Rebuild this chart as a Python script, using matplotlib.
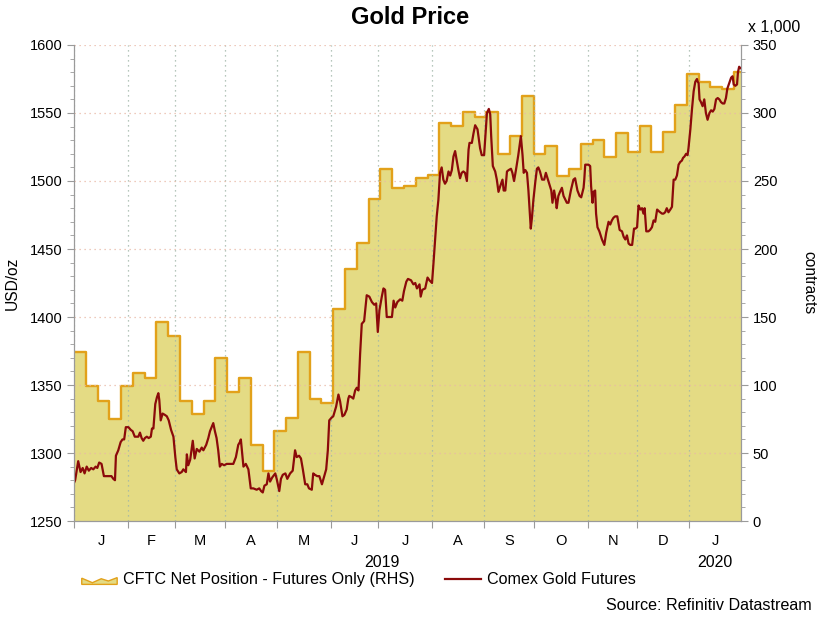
import numpy as np
import pandas as pd
import matplotlib
matplotlib.use('Agg')
import matplotlib.pyplot as plt
from matplotlib.ticker import MultipleLocator, FixedLocator, NullFormatter, FixedFormatter
from matplotlib.patches import Patch, Polygon
from matplotlib.lines import Line2D
from matplotlib.legend_handler import HandlerPatch

plt.rcParams['font.family'] = ['Liberation Sans', 'DejaVu Sans']

# month boundaries of the x axis (axis counts weekdays from 1 Jan 2019)
month_starts = ['2019-01-01', '2019-02-01', '2019-03-01', '2019-04-01', '2019-05-01',
                '2019-06-01', '2019-07-01', '2019-08-01', '2019-09-01', '2019-10-01',
                '2019-11-01', '2019-12-01', '2020-01-01']
axis_end = '2020-01-31'
month_letters = ['J', 'F', 'M', 'A', 'M', 'J', 'J', 'A', 'S', 'O', 'N', 'D', 'J']
years = ['2019', '2020']

# CFTC net position, futures only (x 1,000 contracts), weekly as of Tuesday
cftc_dates = pd.date_range('2019-01-01', '2020-01-28', freq='W-TUE')
cftc_net = [124, 99, 88, 75, 99, 109, 105, 146, 136, 88, 79, 88.5, 120, 95, 105,
            56, 37, 66, 75.5, 124.5, 89.5, 86.5, 156, 185, 204.5, 236.5, 259, 245,
            246, 252, 254.5, 293, 290.5, 300.5, 297, 301, 270, 283, 312.5, 269.5,
            275.5, 253.5, 259, 277, 280.5, 267.5, 285.5, 271.5, 290.5, 271.5, 286,
            306, 328.5, 322.5, 319, 318, 330.5]

# Comex gold futures (USD/oz); position = weekdays since 1 Jan 2019
gold_bday = [0.0, 0.5, 1.8, 2.8, 3.7, 4.5, 5.4, 6.3, 7.3, 8.2, 9.2, 9.9, 10.7, 11.7,
             12.7, 13.8, 14.9, 15.9, 16.7, 17.4, 17.8, 18.8, 19.8, 20.6, 21.3, 22.0,
             23.1, 24.1, 24.9, 25.8, 26.6, 27.3, 28.0, 28.7, 29.4, 30.1, 30.9, 31.7,
             32.6, 33.1, 33.7, 34.5, 35.2, 35.8, 36.2, 36.8, 37.6, 38.6, 39.4, 40.2,
             41.2, 42.2, 43.0, 43.6, 44.7, 45.7, 46.4, 47.5, 47.9, 48.5, 49.3, 50.4,
             51.2, 52.1, 53.2, 54.2, 54.9, 56.1, 57.0, 57.7, 58.4, 59.1, 59.8, 60.5,
             61.2, 61.9, 62.7, 63.7, 64.8, 66.2, 67.6, 68.7, 69.7, 70.4, 70.8, 71.9,
             72.9, 74.0, 75.0, 76.1, 77.5, 78.6, 79.4, 80.1, 80.8, 81.8, 82.5, 83.2,
             84.1, 85.4, 86.0, 87.1, 87.8, 88.6, 89.7, 90.5, 91.7, 92.8, 93.8, 94.5,
             95.5, 96.3, 97.1, 98.1, 99.0, 99.7, 100.9, 101.5, 102.2, 103.2, 104.1,
             105.2, 106.2, 107.0, 107.7, 108.3, 109.3, 110.0, 111.2, 112.2, 112.9,
             113.9, 114.7, 115.7, 116.4, 116.8, 117.8, 118.5, 119.3, 120.0, 120.7,
             121.4, 122.1, 123.1, 124.2, 125.3, 126.4, 127.4, 128.2, 128.9, 129.6,
             130.6, 131.3, 132.0, 132.7, 133.7, 134.9, 135.6, 136.3, 137.2, 138.4,
             139.3, 140.0, 141.0, 141.7, 143.0, 144.0, 144.8, 145.5, 146.6, 147.1,
             147.8, 149.0, 150.0, 150.8, 151.9, 152.5, 153.2, 153.9, 154.6, 155.3,
             156.0, 156.7, 157.4, 158.1, 158.9, 159.6, 160.3, 161.0, 161.7, 162.4,
             163.1, 163.8, 164.5, 165.2, 165.9, 166.7, 167.4, 167.8, 168.8, 169.5,
             170.2, 171.2, 172.3, 173.0, 174.0, 174.8, 175.2, 176.0, 176.6, 177.0,
             177.7, 178.7, 179.4, 180.1, 180.8, 181.8, 182.3, 183.0, 183.7, 184.4,
             185.4, 186.0, 186.7, 187.5, 188.5, 189.6, 190.3, 190.8, 191.5, 192.2,
             192.8, 193.3, 193.8, 194.3, 194.9, 195.7, 196.4, 197.0, 197.7, 198.6,
             199.5, 200.2, 200.9, 201.6, 202.5, 203.0, 203.7, 204.4, 204.8, 205.5,
             206.2, 207.0, 207.7, 209.1, 209.8, 210.8, 211.9, 212.6, 213.6, 214.5,
             215.2, 216.2, 216.5, 216.9, 218.3, 219.0, 219.4, 220.0, 220.4, 221.1,
             221.5, 222.1, 222.9, 224.0, 225.0, 225.8, 226.8, 227.5, 228.2, 228.9,
             229.6, 230.5, 231.5, 232.5, 233.2, 233.9, 234.6, 235.3, 236.0, 236.8,
             237.6, 238.2, 238.9, 239.5, 240.3, 241.0, 241.6, 242.1, 242.8, 243.7,
             244.4, 245.2, 245.9, 246.6, 247.4, 248.0, 248.7, 249.5, 250.1, 250.8,
             251.5, 252.2, 253.0, 253.7, 254.4, 255.1, 255.8, 256.5, 257.2, 257.9,
             258.4, 259.0, 259.7, 260.3, 260.7, 261.5, 262.2, 262.9, 263.6, 264.3,
             264.6, 265.0, 265.4, 266.0, 266.7, 267.4, 268.1, 268.8, 269.6, 270.3,
             271.0, 271.7, 272.4, 273.1, 273.8, 274.5, 275.2, 275.9, 276.6, 277.2,
             278.0, 278.8, 279.4, 279.9, 280.6, 281.3, 281.7, 282.2, 282.7]
gold_usd = [1278, 1280, 1294, 1286, 1289, 1285, 1290, 1287, 1289, 1288, 1290, 1289,
            1293, 1292, 1283, 1283, 1283, 1283, 1281, 1280, 1298, 1302, 1308, 1310,
            1310, 1319, 1319, 1317, 1316, 1312, 1312, 1312, 1315, 1311, 1309, 1311,
            1312, 1311, 1312, 1318, 1318, 1336, 1341, 1344, 1339, 1324, 1329, 1328,
            1327, 1324, 1317, 1312, 1297, 1288, 1285, 1286, 1288, 1286, 1299, 1291,
            1295, 1309, 1296, 1303, 1301, 1304, 1302, 1306, 1311, 1316, 1319, 1322,
            1316, 1311, 1302, 1290, 1292, 1291, 1292, 1292, 1292, 1297, 1306, 1308,
            1310, 1290, 1292, 1288, 1274, 1274, 1273, 1274, 1272, 1271, 1276, 1277,
            1285, 1279, 1282, 1285, 1281, 1272, 1281, 1284, 1285, 1281, 1285, 1287,
            1302, 1297, 1298, 1296, 1288, 1277, 1277, 1274, 1273, 1285, 1284, 1283,
            1283, 1277, 1283, 1288, 1302, 1324, 1326, 1327, 1334, 1343, 1338, 1327,
            1328, 1332, 1340, 1342, 1341, 1340, 1346, 1348, 1346, 1373, 1395, 1397,
            1416, 1415, 1411, 1409, 1410, 1389, 1405, 1415, 1421, 1420, 1400, 1400,
            1400, 1412, 1407, 1411, 1413, 1412, 1419, 1426, 1428, 1427, 1424, 1425,
            1421, 1424, 1415, 1420, 1421, 1429, 1427, 1425, 1439, 1457, 1474, 1486,
            1506, 1510, 1501, 1498, 1500, 1507, 1504, 1508, 1518, 1522, 1515, 1508,
            1502, 1506, 1507, 1506, 1500, 1523, 1528, 1528, 1535, 1541, 1538, 1524,
            1519, 1519, 1540, 1550, 1553, 1549, 1533, 1511, 1507, 1501, 1492, 1496,
            1501, 1493, 1493, 1507, 1508, 1509, 1506, 1500, 1508, 1519, 1533, 1519,
            1506, 1508, 1506, 1493, 1479, 1465, 1473, 1486, 1499, 1509, 1510, 1507,
            1501, 1501, 1506, 1502, 1498, 1493, 1484, 1493, 1486, 1480, 1489, 1492,
            1495, 1489, 1484, 1484, 1493, 1501, 1502, 1493, 1489, 1488, 1495, 1501,
            1512, 1512, 1511, 1496, 1484, 1492, 1493, 1476, 1466, 1463, 1457, 1453,
            1462, 1470, 1468, 1471, 1473, 1474, 1474, 1464, 1463, 1459, 1457, 1460,
            1454, 1453, 1453, 1465, 1465, 1466, 1482, 1479, 1480, 1476, 1480, 1463,
            1463, 1464, 1466, 1471, 1470, 1479, 1478, 1477, 1476, 1476, 1477, 1480,
            1477, 1479, 1481, 1501, 1501, 1504, 1512, 1514, 1515, 1517, 1518, 1520,
            1519, 1524, 1538, 1553, 1566, 1573, 1575, 1573, 1572, 1560, 1558, 1555,
            1560, 1550, 1545, 1550, 1552, 1551, 1553, 1560, 1561, 1560, 1558, 1557,
            1557, 1561, 1568, 1572, 1576, 1577, 1571, 1570, 1571, 1580, 1584, 1583]

fill_col = '#E4DB84'
edge_col = '#E2A11A'
line_col = '#8B0A0A'
spine_col = '#9a9a9a'

# weekday positions
bounds = np.busday_count('2019-01-01', month_starts + [axis_end])
cftc_x = np.busday_count('2019-01-01', cftc_dates.values.astype('datetime64[D]'))
x_end = bounds[-1]
cftc_xs = np.append(cftc_x, x_end)
cftc_vs = np.append(cftc_net, cftc_net[-1])

fig = plt.figure(figsize=(8.2, 6.31), dpi=100)
ax = fig.add_axes([0.0902, 0.1743, 0.8135, 0.7544])
ax2 = ax.twinx()

# CFTC area on the right axis
ax2.fill_between(cftc_xs, cftc_vs, 0, step='post', color=fill_col, lw=0)
ax2.step(cftc_xs, cftc_vs, where='post', color=edge_col, lw=1.7)
ax2.set_ylim(0, 350)

# gold line on the left axis, kept on top
ax.set_zorder(ax2.get_zorder() + 1)
ax.patch.set_visible(False)
ax.plot(gold_bday, gold_usd, color=line_col, lw=1.6)
ax.set_ylim(1250, 1600)
ax.set_xlim(0, x_end)

ax.set_yticks(np.arange(1250, 1601, 50))
ax.yaxis.set_minor_locator(MultipleLocator(10))
ax2.set_yticks(np.arange(0, 351, 50))
ax2.yaxis.set_minor_locator(MultipleLocator(10))

ax.xaxis.set_major_locator(FixedLocator(bounds[:-1]))
ax.xaxis.set_major_formatter(NullFormatter())
mids = (bounds[:-1] + bounds[1:]) / 2
ax.xaxis.set_minor_locator(FixedLocator(mids))
ax.xaxis.set_minor_formatter(FixedFormatter(month_letters))

ax.grid(axis='y', which='major', color='#e9b9a6', ls=(0, (1, 3)), lw=0.9)
ax.grid(axis='x', which='major', color='#9fb4a6', ls=(0, (1, 3)), lw=0.9)

for a in (ax, ax2):
    for s in ('left', 'right', 'bottom'):
        a.spines[s].set_color(spine_col)
    a.spines['top'].set_visible(False)
    a.tick_params(axis='y', which='major', length=5, color=spine_col, labelsize=10.5)
    a.tick_params(axis='y', which='minor', length=3, color=spine_col)
ax.tick_params(axis='x', which='major', length=5, color=spine_col)
ax.tick_params(axis='x', which='minor', length=0, pad=9, labelsize=10.5)

# year labels under the month letters
year_x = [(bounds[0] + bounds[12]) / 2, (bounds[12] + bounds[13]) / 2]
for yx, yl in zip(year_x, years):
    ax.text(yx, -0.088, yl, transform=ax.get_xaxis_transform(), ha='center',
            va='center', fontsize=11.5)

ax.set_ylabel('USD/oz', fontsize=11.2, va='center')
ax.yaxis.set_label_coords(-0.093, 0.5)
ax2.set_ylabel('contracts', fontsize=11.2, rotation=270, va='center')
ax2.yaxis.set_label_coords(1.101, 0.5)

fig.text(0.5, 0.972, 'Gold Price', ha='center', va='center', fontsize=17,
         fontweight='bold')
fig.text(0.912, 0.957, 'x 1,000', ha='left', va='center', fontsize=11.4)
fig.text(0.99, 0.041, 'Source: Refinitiv Datastream', ha='right', va='center',
         fontsize=11.6)


def area_icon(legend, orig_handle, xdescent, ydescent, width, height, fontsize):
    fx = np.array([0, 0, 0.3, 0.55, 0.75, 1, 1])
    fy = np.array([0, 0.55, 0.15, 0.5, 0.3, 0.6, 0])
    pts = np.column_stack([fx * width - xdescent, fy * height - ydescent])
    return Polygon(pts, closed=True, facecolor=fill_col, edgecolor=edge_col, lw=1.2)


handles = [Patch(facecolor=fill_col, edgecolor=edge_col),
           Line2D([], [], color=line_col, lw=1.6)]
labels = ['CFTC Net Position - Futures Only (RHS)', 'Comex Gold Futures']
fig.legend(handles, labels, loc='center left', bbox_to_anchor=(0.082, 0.081),
           ncol=2, frameon=False, fontsize=11.6, handlelength=2.2,
           handletextpad=0.37, columnspacing=1.9,
           handler_map={Patch: HandlerPatch(patch_func=area_icon)})

fig.savefig('out.png', dpi=100)
